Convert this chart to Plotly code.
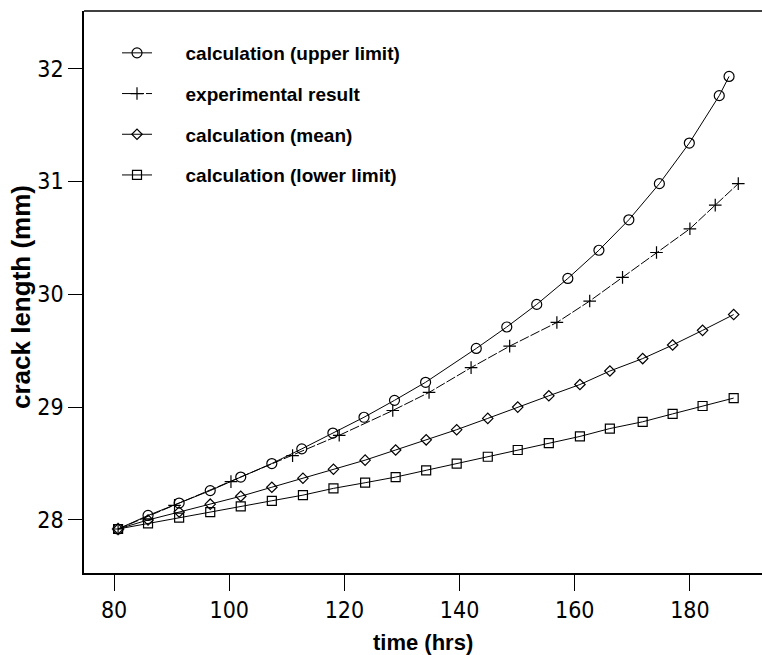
import plotly.graph_objects as go

# ---- data ----
upper_t = [80.7, 85.9, 91.3, 96.7, 102.0, 107.4, 112.6, 118.0, 123.4, 128.7, 134.1,
           142.9, 148.2, 153.4, 158.8, 164.2, 169.4, 174.7, 179.9, 185.1, 186.8]
upper_a = [27.92, 28.04, 28.15, 28.26, 28.38, 28.50, 28.63, 28.77, 28.91, 29.06, 29.22,
           29.52, 29.71, 29.91, 30.14, 30.39, 30.66, 30.98, 31.34, 31.76, 31.93]

exp_t = [80.7, 90.5, 100.3, 111.0, 119.1, 128.4, 134.7, 142.0, 148.7, 156.9, 162.6,
         168.3, 174.2, 180.0, 184.4, 188.4]
exp_a = [27.92, 28.13, 28.34, 28.57, 28.75, 28.97, 29.13, 29.35, 29.54, 29.75, 29.94,
         30.15, 30.37, 30.58, 30.79, 30.98]

calc_t = [80.7, 85.9, 91.3, 96.7, 102.0, 107.4, 112.8, 118.1, 123.6, 128.9, 134.2,
          139.5, 144.9, 150.1, 155.5, 160.9, 166.1, 171.8, 177.0, 182.2, 187.6]
mean_a = [27.92, 28.00, 28.07, 28.14, 28.21, 28.29, 28.37, 28.45, 28.53, 28.62, 28.71,
          28.80, 28.90, 29.00, 29.10, 29.20, 29.32, 29.43, 29.55, 29.68, 29.82]
lower_a = [27.92, 27.97, 28.02, 28.07, 28.12, 28.17, 28.22, 28.28, 28.33, 28.38, 28.44,
           28.50, 28.56, 28.62, 28.68, 28.74, 28.81, 28.87, 28.94, 29.01, 29.08]

x_ticks = [80, 100, 120, 140, 160, 180]
y_ticks = [28, 29, 30, 31, 32]

names = ["calculation (upper limit)", "experimental result",
         "calculation (mean)", "calculation (lower limit)"]

PAD = "\u2002\u2002\u2002"
fig = go.Figure()
blk = "black"
fig.add_trace(go.Scatter(x=upper_t, y=upper_a, mode="lines+markers", name=PAD + names[0],
                         legendgroup="a",
                         line=dict(color=blk, width=1),
                         marker=dict(symbol="circle-open", size=10, color=blk, line=dict(width=1.2))))
fig.add_trace(go.Scatter(x=exp_t, y=exp_a, mode="lines+markers", name=PAD + names[1],
                         legendgroup="b",
                         line=dict(color=blk, width=1, dash="10px,2px"),
                         marker=dict(symbol="cross-thin-open", size=9, color=blk, line=dict(width=1.2, color=blk))))
fig.add_trace(go.Scatter(x=calc_t, y=mean_a, mode="lines+markers", name=PAD + names[2],
                         legendgroup="c",
                         line=dict(color=blk, width=1),
                         marker=dict(symbol="diamond-open", size=8, color=blk, line=dict(width=1.2))))
fig.add_trace(go.Scatter(x=calc_t, y=lower_a, mode="lines+markers", name=PAD + names[3],
                         legendgroup="d",
                         line=dict(color=blk, width=1),
                         marker=dict(symbol="square-open", size=9, color=blk, line=dict(width=1.2))))

L, R, T, B = 84, 0, 11, 82
W, H = 762, 655
pw, ph = W - L - R, H - T - B

tickfont = dict(family="Liberation Sans Narrow, DejaVu Sans Condensed, Liberation Sans", size=23, color=blk)
fig.update_layout(
    width=W, height=H,
    margin=dict(l=L, r=R, t=T, b=B, pad=0),
    paper_bgcolor="white", plot_bgcolor="white",
    showlegend=True,
    legend=dict(x=(117 - L) / pw, y=1 - (34 - T) / ph, xanchor="left", yanchor="top",
                traceorder="grouped", tracegroupgap=13, bgcolor="rgba(0,0,0,0)",
                font=dict(family="Liberation Sans, Arial, sans-serif", size=19, color=blk, weight="bold"),
                itemwidth=30),
    xaxis=dict(range=[74.78, 192.52], tickvals=x_ticks, ticktext=[str(v) for v in x_ticks],
               showgrid=False, zeroline=False, showline=True, linecolor=blk, linewidth=1.5,
               ticks="outside", ticklen=16, tickwidth=1, tickcolor=blk,
               tickfont=tickfont),
    yaxis=dict(range=[27.53, 32.51], tickvals=y_ticks, ticktext=[str(v) for v in y_ticks],
               showgrid=False, zeroline=False, showline=True, linecolor=blk, linewidth=1.5,
               ticks="outside", ticklen=14, tickwidth=1, tickcolor=blk,
               tickfont=tickfont),
    shapes=[dict(type="line", xref="paper", yref="paper", x0=0, x1=1, y0=1, y1=1,
                 line=dict(color=blk, width=1.5))],
    annotations=[
        dict(text="<b>time (hrs)</b>", xref="paper", yref="paper",
             x=0.5, y=-(642 - (H - B)) / ph, xanchor="center", yanchor="middle",
             showarrow=False, font=dict(family="Liberation Sans, Arial, sans-serif", size=22, color=blk)),
        dict(text="<b>crack length (mm)</b>", xref="paper", yref="paper",
             x=(21 - L) / pw, y=1 - (297 - T) / ph, xanchor="center", yanchor="middle",
             textangle=-90, showarrow=False,
             font=dict(family="Liberation Sans, Arial, sans-serif", size=26, color=blk)),
    ],
)
fig.write_html("out.html")
